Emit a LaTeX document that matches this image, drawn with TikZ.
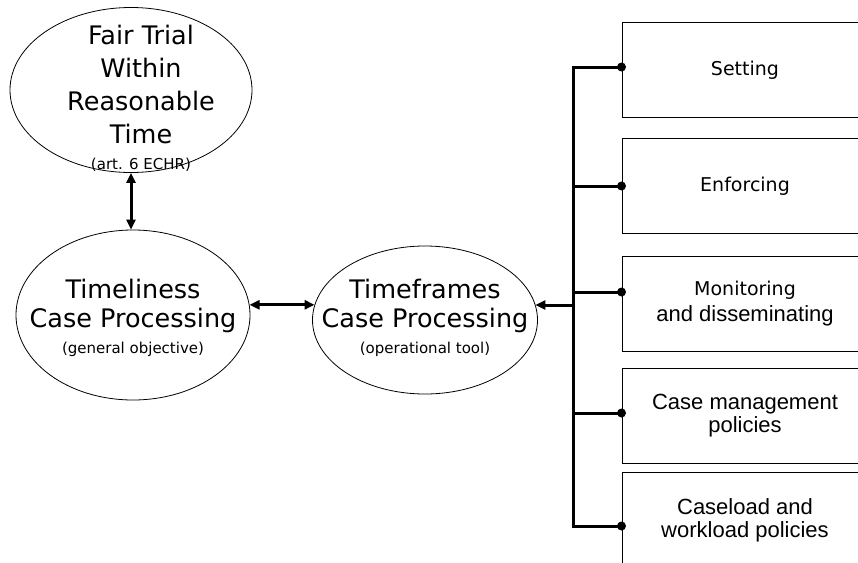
\documentclass[tikz,border=0pt]{standalone}
\usepackage{fontspec}
\setmainfont{DejaVu Sans}
\newfontfamily\arialfont{Liberation Sans}
\usepackage{tikz}
\usetikzlibrary{shapes.geometric, arrows.meta, positioning, calc}

\begin{document}
\begin{tikzpicture}[x=1pt,y=-1pt,
  bubble/.style={draw, ellipse, line width=0.8pt, inner sep=0pt},
  bigtxt/.style={align=center, font=\fontsize{25.5}{29}\selectfont},
  pane/.style={draw, line width=1pt, minimum width=246pt, minimum height=95pt, inner sep=0pt, align=center},
  panetxt/.style={font=\arialfont\fontsize{22}{23}\selectfont},
  panetxt2/.style={font=\fontsize{19}{23}\selectfont},
  link/.style={line width=3pt},
  tip/.style={-{Triangle[length=10pt,width=9pt]}},
  twoway/.style={line width=3pt, {Triangle[length=10pt,width=9pt]}-{Triangle[length=10pt,width=9pt]}}]
  \path[use as bounding box] (0,0) rectangle (858,562);
  \clip (0,0) rectangle (858,562);

  % ellipses
  \node[bubble, minimum width=242pt, minimum height=165pt] (fair) at (131,90) {};
  \node[bigtxt, font=\fontsize{25.5}{33}\selectfont] (fairtxt) at (141,98) {Fair Trial\\Within\\Reasonable\\Time\\[-7pt]{\fontsize{15}{18}\selectfont (art. 6 ECHR)}};
  \node[bubble, minimum width=234pt, minimum height=170pt] (tl) at (133,315) {};
  \node[bigtxt] (tltxt) at (133,318) {Timeliness\\Case Processing\\[-3pt]{\fontsize{15}{18}\selectfont (general objective)}};
  \node[bubble, minimum width=225pt, minimum height=148pt] (tf) at (425,320) {};
  \node[bigtxt] (tftxt) at (425,318) {Timeframes\\Case Processing\\[-3pt]{\fontsize{15}{18}\selectfont (operational tool)}};

  % boxes on the right
  \node[pane, panetxt2] (setting) at (745,70) {Setting};
  \node[pane, panetxt2] (enforcing) at (745,186) {Enforcing};
  \node[pane, panetxt2] (monitoring) at (745,304) {Monitoring\\[3pt]{\arialfont\fontsize{22}{23}\selectfont and disseminating}};
  \node[pane, panetxt] (casemgmt) at (745,416) {Case management\\policies};
  \node[pane, panetxt] (caseload) at (745,520) {Caseload and\\workload policies};

  \coordinate (busx) at (573,305);
  \draw[link] ([yshift=3pt]setting.west) -- ([yshift=3pt]setting.west -| busx)
    -- ([yshift=-6pt]caseload.west -| busx) -- ([yshift=-6pt]caseload.west);
  \foreach \b/\dy in {enforcing/0,monitoring/12,casemgmt/3}{
    \draw[link] ([yshift=\dy pt]\b.west) -- ([yshift=\dy pt]\b.west -| busx);
  }
  \foreach \b/\dy in {setting/3,enforcing/0,monitoring/12,casemgmt/3,caseload/-6}{
    \fill ([yshift=\dy pt]\b.west) circle (4.5);
  }

  % arrows
  \draw[link, tip] (busx) -- (busx -| tf.8);
  \draw[twoway] (tl.5) -- (tl.5 -| tf.172);
  \draw[twoway] (fair.south) -- (fair.south |- tl.north);
\end{tikzpicture}
\end{document}
